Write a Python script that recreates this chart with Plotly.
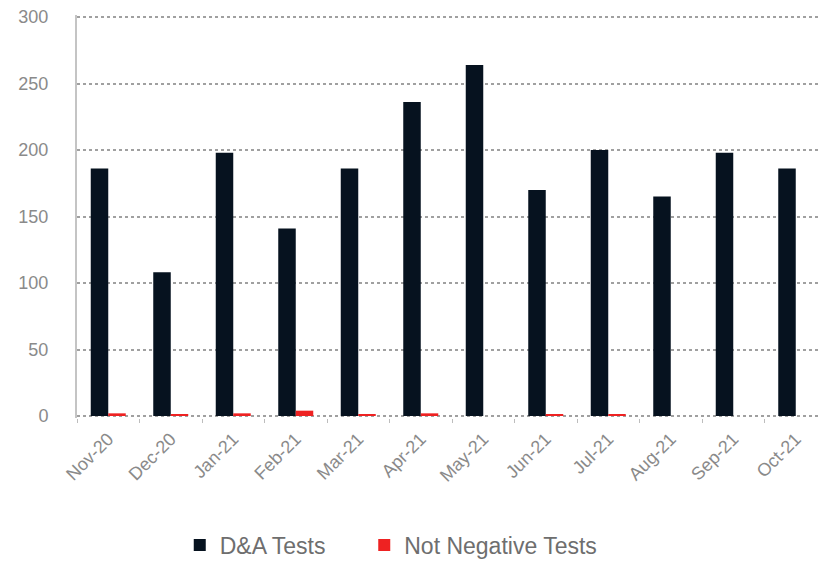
import plotly.graph_objects as go

months = ["Nov-20", "Dec-20", "Jan-21", "Feb-21", "Mar-21", "Apr-21",
          "May-21", "Jun-21", "Jul-21", "Aug-21", "Sep-21", "Oct-21"]
da_tests = [186, 108, 198, 141, 186, 236, 264, 170, 200, 165, 198, 186]
not_negative = [2, 1, 2, 4, 1, 2, 0, 1, 1, 0, 0, 0]

fig = go.Figure()
fig.add_trace(go.Bar(x=months, y=da_tests, name="D&A Tests", legend="legend",
                     marker=dict(color="#06121F", line=dict(width=0))))
fig.add_trace(go.Bar(x=months, y=not_negative, name="Not Negative Tests",
                     legend="legend2",
                     marker=dict(color="#EE2222", line=dict(width=0))))

leg_common = dict(orientation="h", xanchor="left", y=-0.315, yanchor="middle",
                  font=dict(size=23, color="#6E6E6E"), itemwidth=30,
                  bgcolor="rgba(0,0,0,0)")

fig.update_layout(
    width=820, height=553,
    margin=dict(l=69, r=1, t=7, b=143, autoexpand=False),
    paper_bgcolor="white", plot_bgcolor="white",
    barmode="group", bargap=0.44, bargroupgap=0,
    font=dict(family="Liberation Sans, Arial, sans-serif", color="#808080"),
    legend=dict(x=0.137, **leg_common),
    legend2=dict(x=0.383, **leg_common),
    showlegend=True,
)
fig.update_yaxes(range=[-1.5, 301.5], dtick=50, showgrid=True, gridcolor="#A0A0A0",
                 griddash="dot", gridwidth=1.5, zeroline=False, showline=True,
                 linecolor="#C4C4C4", linewidth=2, ticks="", automargin=False,
                 ticklabeloverflow="allow",
                 tickfont=dict(size=18, color="#8A8A8A"), ticklabelstandoff=23)
fig.update_xaxes(showgrid=False, showline=False, ticks="outside",
                 tickson="boundaries", ticklen=4, tickcolor="#BDBDBD",
                 automargin=False, ticklabelstandoff=6,
                 tickangle=-45, tickfont=dict(size=18, color="#8A8A8A"))
fig.write_html("out.html")
